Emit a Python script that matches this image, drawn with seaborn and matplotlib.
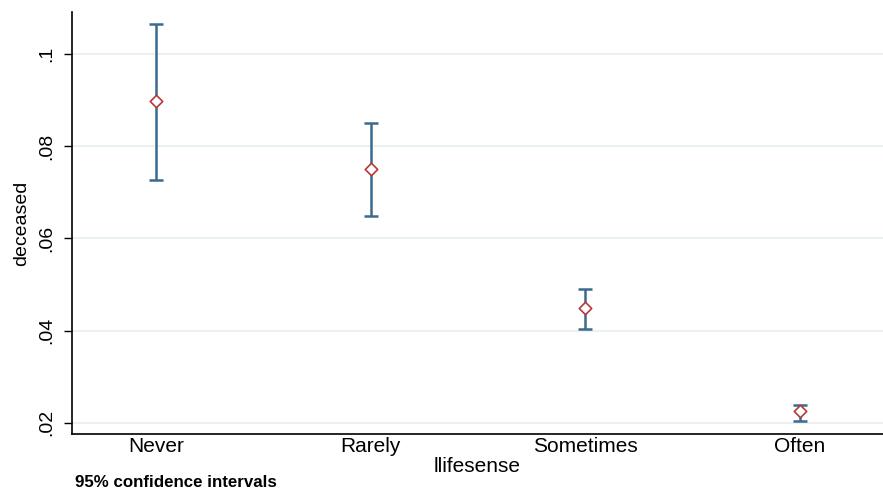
import pandas as pd
import numpy as np
import seaborn as sns
import matplotlib.pyplot as plt

categories = ["Never", "Rarely", "Sometimes", "Often"]
means = [0.0898, 0.0750, 0.0450, 0.0226]
lower = [0.0726, 0.0648, 0.0404, 0.0204]
upper = [0.1065, 0.0850, 0.0491, 0.0239]
y_ticks = [0.02, 0.04, 0.06, 0.08, 0.1]
y_tick_labels = [".02", ".04", ".06", ".08", ".1"]

df = pd.DataFrame({"lifesense": categories, "deceased": means,
                   "lo": lower, "hi": upper})
df["pos"] = np.arange(len(df))

sns.set_style("white")
plt.rcParams["font.family"] = ["Liberation Sans", "DejaVu Sans"]
plt.rcParams["text.color"] = "black"
plt.rcParams["axes.labelcolor"] = "black"
plt.rcParams["xtick.color"] = "black"
plt.rcParams["ytick.color"] = "black"

fig = plt.figure(figsize=(8.83, 4.96), dpi=100)
ax = fig.add_axes([0.0815, 0.125, 0.9185, 0.851])

for t in y_ticks:
    ax.axhline(t, color="#e6eff0", linewidth=1.2, zorder=0)

# confidence intervals
ax.errorbar(df["pos"], df["deceased"],
            yerr=[df["deceased"] - df["lo"], df["hi"] - df["deceased"]],
            fmt="none", ecolor="#3a6a8c", elinewidth=1.8, capsize=5,
            capthick=1.8, zorder=2)
# point estimates
sns.scatterplot(data=df, x="pos", y="deceased", marker="D", s=40,
                facecolor="white", edgecolor="#b5393b", linewidth=1.2,
                ax=ax, zorder=3)

ax.set_xlim(-0.39, 3.386)
ax.set_ylim(0.0176, 0.1091)
ax.set_xticks(df["pos"])
ax.set_xticklabels(categories, fontsize=15)
ax.set_yticks(y_ticks)
ax.set_yticklabels(y_tick_labels, fontsize=14, rotation=90, va="center")
ax.tick_params(axis="y", length=6, width=1, left=True, pad=6)
ax.tick_params(axis="x", length=0, pad=2)

for s in ["top", "right"]:
    ax.spines[s].set_visible(False)
for s in ["left", "bottom"]:
    ax.spines[s].set_color("black")
    ax.spines[s].set_linewidth(1.2)

ax.set_xlabel("llifesense", fontsize=15, labelpad=1)
ax.set_ylabel("deceased", fontsize=14, labelpad=6)
fig.text(0.085, 0.012, "95% confidence intervals", fontsize=12.2,
         fontweight="bold", ha="left", va="bottom")

fig.savefig("out.png", dpi=100)
